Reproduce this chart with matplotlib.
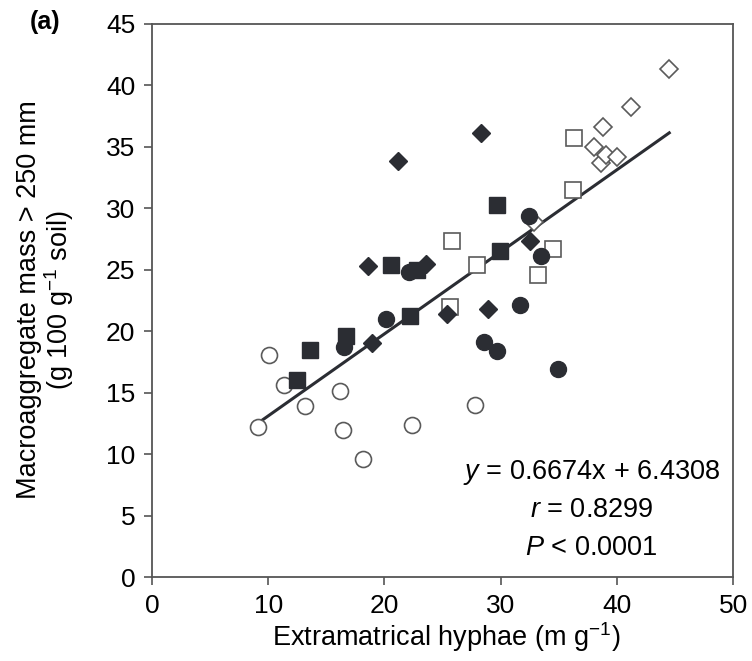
import numpy as np
import matplotlib
matplotlib.use('Agg')
import matplotlib.pyplot as plt

plt.rcParams['font.family'] = 'Liberation Sans'
plt.rcParams['mathtext.fontset'] = 'custom'
plt.rcParams['mathtext.rm'] = 'Liberation Sans'
plt.rcParams['mathtext.it'] = 'Liberation Sans:italic'

# open circles
oc_x = [9.1, 10.1, 11.4, 13.2, 16.2, 16.4, 18.2, 22.4, 27.8]
oc_y = [12.2, 18.1, 15.6, 13.9, 15.1, 12.0, 9.6, 12.4, 14.0]
# filled circles
fc_x = [16.5, 20.1, 22.1, 32.4, 33.5, 31.7, 28.6, 29.7, 34.9]
fc_y = [18.7, 21.0, 24.8, 29.4, 26.1, 22.1, 19.1, 18.4, 16.9]
# filled squares
fs_x = [12.5, 13.6, 16.7, 20.6, 22.2, 22.8, 29.7, 29.9]
fs_y = [16.0, 18.5, 19.6, 25.4, 21.2, 25.0, 30.3, 26.5]
# filled diamonds
fd_x = [18.6, 18.9, 21.2, 23.6, 25.4, 28.3, 28.9, 32.5]
fd_y = [25.3, 19.0, 33.8, 25.5, 21.4, 36.1, 21.8, 27.3]
# open squares
os_x = [25.6, 25.8, 28.0, 33.2, 34.5, 36.2, 36.3]
os_y = [22.0, 27.3, 25.4, 24.6, 26.7, 31.5, 35.7]
# open diamonds
od_x = [32.9, 38.0, 38.6, 38.8, 39.1, 40.0, 41.2, 44.5]
od_y = [28.9, 35.0, 33.7, 36.6, 34.3, 34.2, 38.2, 41.3]

slope, intercept = 0.6674, 6.4308
fit_x = np.array([9.1, 44.5])

dark = '#2b2d33'
grey = '#5a5a5a'
axis_col = '#555555'

fig = plt.figure(figsize=(7.52, 6.61), dpi=100)
ax = fig.add_axes([0.202, 0.127, 0.773, 0.837])

ax.plot(fit_x, slope * fit_x + intercept, color=dark, lw=2.2, zorder=1)

ax.plot(oc_x, oc_y, 'o', ms=11.5, mfc='white', mec=grey, mew=1.2, ls='none', zorder=2)
ax.plot(os_x, os_y, 's', ms=11, mfc='white', mec=grey, mew=1.2, ls='none', zorder=2)
ax.plot(od_x, od_y, 'D', ms=9.5, mfc='white', mec=grey, mew=1.2, ls='none', zorder=2)
ax.plot(fc_x, fc_y, 'o', ms=11.5, color=dark, ls='none', zorder=3)
ax.plot(fs_x, fs_y, 's', ms=11, color=dark, ls='none', zorder=3)
ax.plot(fd_x, fd_y, 'D', ms=9.5, color=dark, ls='none', zorder=3)

ax.set_xlim(0, 50)
ax.set_ylim(0, 45)
ax.set_xticks(np.arange(0, 51, 10))
ax.set_yticks(np.arange(0, 46, 5))
ax.tick_params(labelsize=19, length=6, width=1.2, color=axis_col, pad=6)
for s in ax.spines.values():
    s.set_color(axis_col)
    s.set_linewidth(1.3)

# axis labels placed in figure coords
fig.text(0.593, 0.036, 'Extramatrical hyphae (m g$^{-1}$)', fontsize=19.5,
         ha='center', va='center')
fig.text(0.061, 0.546, 'Macroaggregate mass > 250 mm\n(g 100 g$^{-1}$ soil)', fontsize=19.5,
         ha='center', va='center', rotation=90, linespacing=1.0)

ax.text(37.8, 8.5, '$y$ = 0.6674x + 6.4308', fontsize=19.5, ha='center', va='center')
ax.text(37.8, 5.45, '$r$ = 0.8299', fontsize=19.5, ha='center', va='center')
ax.text(37.8, 2.36, '$P$ < 0.0001', fontsize=19.5, ha='center', va='center')

fig.text(0.040, 0.966, '(a)', fontsize=18, fontweight='bold', ha='left', va='center')

fig.savefig('out.png', dpi=100)
